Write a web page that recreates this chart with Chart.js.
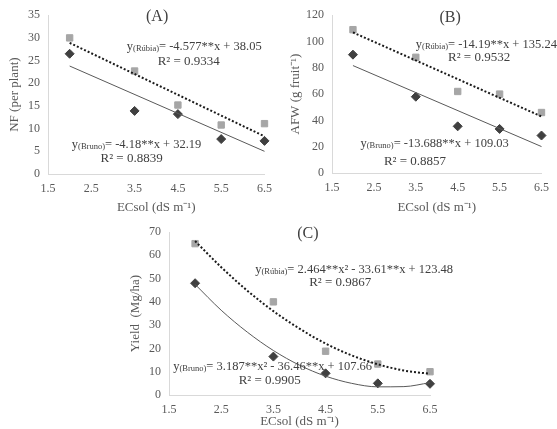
<!DOCTYPE html>
<html>
<head>
<meta charset="utf-8">
<script src="https://cdn.jsdelivr.net/npm/chart.js@4"></script>
<style>
  body { margin: 0; background: #fff; }
  #wrap { position: relative; width: 557px; height: 429px; overflow: hidden; }
  .box { position: absolute; }
</style>
</head>
<body>
<div id="wrap">
  <div class="box" style="left:0;top:0;width:280px;height:215px"><canvas id="chartA"></canvas></div>
  <div class="box" style="left:280px;top:0;width:277px;height:215px"><canvas id="chartB"></canvas></div>
  <div class="box" style="left:115px;top:215px;width:442px;height:214px"><canvas id="chartC"></canvas></div>
</div>
<script>
// ECsol levels (dS m-1)
const ecsol = [2, 3.5, 4.5, 5.5, 6.5];

// (A) NF per plant
const nfRubia = [30, 22.7, 15.2, 10.8, 11.1];
const nfBruno = [26.5, 13.9, 13.2, 7.7, 7.3];
const nfFitX = [2, 6.5];
const nfFitRubia = [28.9, 8.3];
const nfFitBruno = [23.8, 5.0];

// (B) AFW (g fruit-1)
const afwRubia = [109, 88, 62, 60, 46];
const afwBruno = [90, 58, 35.5, 33.5, 28.5];
const afwFitX = [2, 6.5];
const afwFitRubia = [106.9, 43.0];
const afwFitBruno = [81.7, 20.1];

// (C) Yield (Mg/ha)
const yieldRubia = [65, 40, 18.8, 13.3, 10];
const yieldBruno = [48, 16.5, 9.3, 5, 4.8];
const yieldFitX = [2, 2.5, 3, 3.5, 4, 4.5, 5, 5.5, 6, 6.5];
const yieldFitRubia = [66.1, 54.9, 44.8, 36.0, 28.5, 22.1, 17.0, 13.2, 10.5, 9.1];
const yieldFitBruno = [47.5, 36.4, 27.0, 19.1, 12.8, 8.1, 5.0, 3.5, 3.6, 5.3];

const xTicks = [1.5, 2.5, 3.5, 4.5, 5.5, 6.5];

const SERIF = "'Liberation Serif', 'Times New Roman', serif";
const TICK_COLOR = "#595959";

function pts(xs, ys) {
  return xs.map((x, i) => ({ x: x, y: ys[i] }));
}

// draws equation / panel labels at data coordinates
const notesPlugin = {
  id: "notes",
  afterDraw(chart, args, opts) {
    const ctx = chart.ctx;
    const xs = chart.scales.x, ys = chart.scales.y;
    ctx.save();
    ctx.fillStyle = "#404040";
    ctx.textBaseline = "middle";
    (opts.items || []).forEach((it) => {
      const px = xs.getPixelForValue(it.x);
      const py = ys.getPixelForValue(it.y);
      if (it.parts) {
        // y(sub)= rest
        let cx = px;
        it.parts.forEach((p) => {
          ctx.font = p.size + "px " + SERIF;
          ctx.textAlign = "left";
          ctx.fillText(p.t, cx, py + (p.dy || 0));
          cx += ctx.measureText(p.t).width;
        });
      } else {
        ctx.font = (it.size || 13) + "px " + SERIF;
        ctx.textAlign = it.align || "center";
        ctx.fillText(it.text, px, py);
      }
    });
    ctx.restore();
  }
};

function eq(x, y, sub, rest) {
  return {
    x: x, y: y,
    parts: [
      { t: "y", size: 12.5 },
      { t: sub, size: 8.5, dy: 2 },
      { t: rest, size: 12.5 }
    ]
  };
}

function makeChart(id, cfg) {
  const ctx = document.getElementById(id).getContext("2d");
  return new Chart(ctx, {
    type: "scatter",
    data: {
      datasets: [
        {
          label: "Rúbia",
          data: pts(ecsol, cfg.rubia),
          pointStyle: "rect",
          pointRadius: 4.5,
          backgroundColor: "#a6a6a6",
          borderColor: "#a6a6a6",
          clip: false,
          order: 1
        },
        {
          label: "Bruno",
          data: pts(ecsol, cfg.bruno),
          pointStyle: "rectRot",
          pointRadius: 4.5,
          backgroundColor: "#404040",
          borderColor: "#404040",
          clip: false,
          order: 1
        },
        {
          label: "Rúbia fit",
          type: "line",
          data: pts(cfg.fitX, cfg.fitRubia),
          borderColor: "#1a1a1a",
          borderWidth: 2,
          borderDash: [2, 2],
          pointRadius: 0,
          cubicInterpolationMode: "monotone",
          fill: false,
          clip: false,
          order: 0
        },
        {
          label: "Bruno fit",
          type: "line",
          data: pts(cfg.fitX, cfg.fitBruno),
          borderColor: "#595959",
          borderWidth: 1,
          pointRadius: 0,
          cubicInterpolationMode: "monotone",
          fill: false,
          clip: false,
          order: 0
        }
      ]
    },
    options: {
      responsive: true,
      maintainAspectRatio: false,
      animation: false,
      layout: { padding: cfg.padding },
      plugins: {
        legend: { display: false },
        tooltip: { enabled: false },
        notes: { items: cfg.notes }
      },
      scales: {
        x: {
          type: "linear",
          min: 1.5,
          max: 6.5,
          afterBuildTicks: (s) => { s.ticks = xTicks.map((v) => ({ value: v })); },
          afterFit: (s) => { s.height = cfg.xHeight; },
          grid: { display: false, drawTicks: false },
          border: { color: "#d9d9d9", width: 1 },
          ticks: {
            color: TICK_COLOR,
            font: { family: SERIF, size: 12 },
            padding: 8,
            maxRotation: 0,
            autoSkip: false,
            callback: (v) => v.toFixed(1)
          },
          title: {
            display: true,
            text: "ECsol (dS m⁻¹)",
            color: TICK_COLOR,
            font: { family: SERIF, size: 13 },
            padding: { top: 0, bottom: 0 }
          }
        },
        y: {
          min: 0,
          max: cfg.yMax,
          afterFit: (s) => { s.width = cfg.yWidth; },
          grid: { display: false, drawTicks: false },
          border: { color: "#d9d9d9", width: 1 },
          ticks: {
            stepSize: cfg.yStep,
            color: TICK_COLOR,
            font: { family: SERIF, size: 12 },
            padding: 8
          },
          title: {
            display: true,
            text: cfg.yTitle,
            color: TICK_COLOR,
            font: { family: SERIF, size: 13 },
            padding: { top: cfg.yTitlePad, bottom: 2 }
          }
        }
      }
    },
    plugins: [notesPlugin]
  });
}

makeChart("chartA", {
  rubia: nfRubia, bruno: nfBruno,
  fitX: nfFitX, fitRubia: nfFitRubia, fitBruno: nfFitBruno,
  yMax: 35, yStep: 5, yTitle: "NF (per plant)", yTitlePad: 7,
  yWidth: 48, xHeight: 41,
  padding: { top: 15, right: 4, left: 0, bottom: 0 },
  notes: [
    { x: 4.02, y: 34.6, text: "(A)", size: 16 },
    eq(3.32, 28.0, "(Rúbia)", "= -4.577**x + 38.05"),
    { x: 4.75, y: 24.8, text: "R² = 0.9334" },
    eq(2.05, 6.4, "(Bruno)", "= -4.18**x + 32.19"),
    { x: 3.43, y: 3.3, text: "R² = 0.8839" }
  ]
});

makeChart("chartB", {
  rubia: afwRubia, bruno: afwBruno,
  fitX: afwFitX, fitRubia: afwFitRubia, fitBruno: afwFitBruno,
  yMax: 120, yStep: 20, yTitle: "AFW (g fruit⁻¹)", yTitlePad: 8,
  yWidth: 52, xHeight: 42,
  padding: { top: 13, right: 3, left: 0, bottom: 0 },
  notes: [
    { x: 4.32, y: 117.8, text: "(B)", size: 16 },
    eq(3.5, 97.5, "(Rúbia)", "= -14.19**x + 135.24"),
    { x: 5.01, y: 87.5, text: "R² = 0.9532" },
    eq(2.18, 22.0, "(Bruno)", "= -13.688**x + 109.03"),
    { x: 3.48, y: 9.0, text: "R² = 0.8857" }
  ]
});

makeChart("chartC", {
  rubia: yieldRubia, bruno: yieldBruno,
  fitX: yieldFitX, fitRubia: yieldFitRubia, fitBruno: yieldFitBruno,
  yMax: 70, yStep: 10, yTitle: "Yield  (Mg/ha)", yTitlePad: 13,
  yWidth: 54, xHeight: 34,
  padding: { top: 17, right: 127, left: 0, bottom: 0 },
  notes: [
    { x: 4.16, y: 69.4, text: "(C)", size: 16 },
    eq(3.15, 53.7, "(Rúbia)", "= 2.464**x² - 33.61**x + 123.48"),
    { x: 4.78, y: 48.1, text: "R² = 0.9867" },
    eq(1.58, 12.0, "(Bruno)", "= 3.187**x² - 36.46**x + 107.66"),
    { x: 3.43, y: 6.0, text: "R² = 0.9905" }
  ]
});
</script>
</body>
</html>
